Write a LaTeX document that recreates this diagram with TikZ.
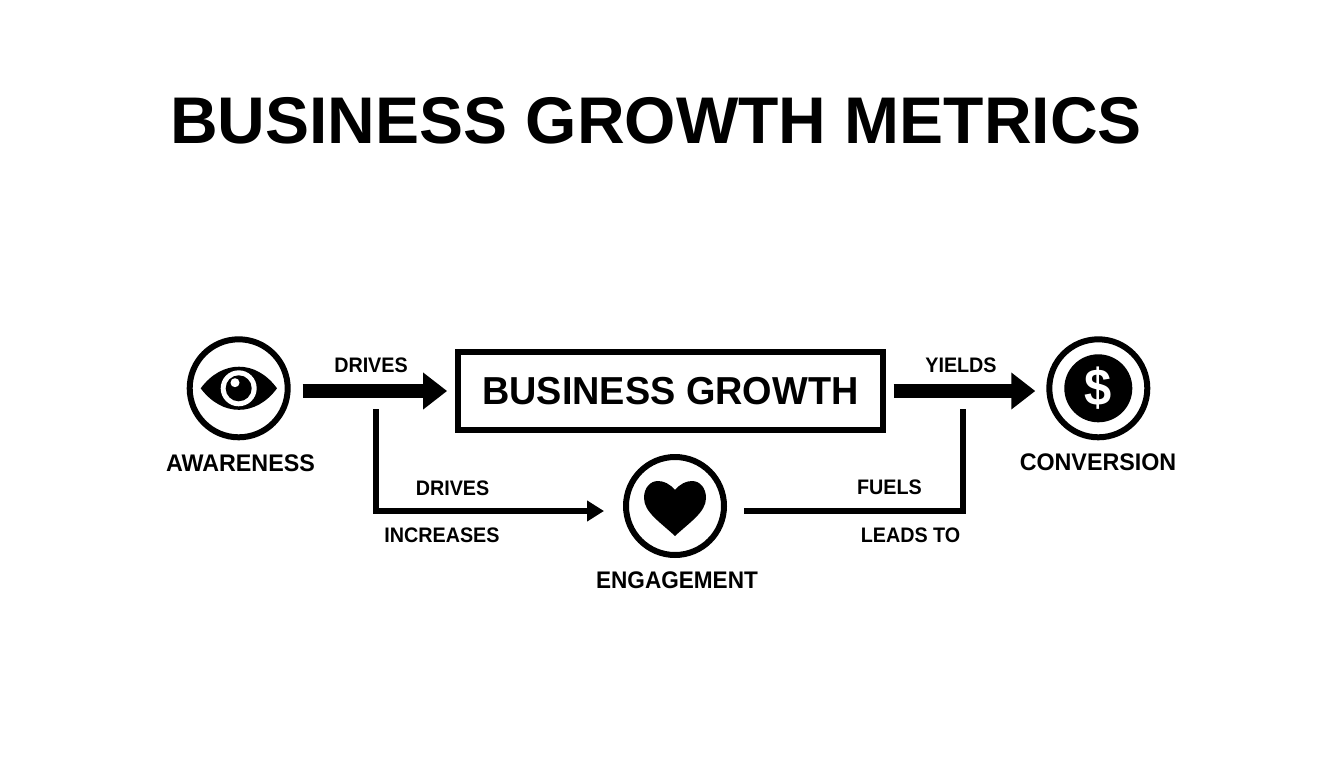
\documentclass[tikz,border=0pt]{standalone}
\usepackage{fontspec}
\setmainfont{Liberation Sans}
\newfontfamily\narrowfont[FakeStretch=0.94]{Liberation Sans}
\newfontfamily\namefont[FakeStretch=0.97]{Liberation Sans}
\usetikzlibrary{arrows.meta}

\tikzset{
  ringnode/.style = {draw,circle,line width=6pt,minimum size=98pt,inner sep=0pt},
  labelnode/.style = {font=\fontsize{21}{21}\narrowfont\bfseries\selectfont,inner sep=0pt},
  namenode/.style = {font=\fontsize{24}{24}\namefont\bfseries\selectfont,inner sep=0pt},
  bigarrow/.style = {line width=14.7pt,-{Triangle[length=24pt,width=35.4pt]}},
  thinarrow/.style = {line width=6pt,-{Triangle[length=17pt,width=20pt]}}
}

\begin{document}
\begin{tikzpicture}[x=1pt,y=-1pt]
\useasboundingbox (0,0) rectangle (1344,768);

\node[font=\fontsize{66}{66}\bfseries\selectfont,inner sep=0pt] (title) at (656,121) {BUSINESS GROWTH METRICS};

\node[ringnode] (awareness) at (238.7,388.3) {};
\node[ringnode] (engagement) at (675,506) {};
\node[ringnode] (conversion) at (1098.3,388.3) {};
\node[draw,line width=5.6pt,minimum width=425pt,minimum height=78pt,inner sep=0pt,
      font=\fontsize{39}{39}\namefont\bfseries\selectfont] (growth) at (670.4,391) {BUSINESS GROWTH};

% icons
\fill (200.7,388.3) .. controls (222,359.5) and (256,359.5) .. (277,388.3)
                    .. controls (256,417) and (222,417) .. (200.7,388.3) -- cycle;
\fill[white] (238.7,388.3) circle (18);
\fill (238.7,388.3) circle (13);
\fill[white] (235,382.7) circle (4.5);
\fill (675,490) .. controls (670,484) and (664,481) .. (658,481)
     .. controls (650,481) and (644,488) .. (644,498)
     .. controls (644,512) and (660,522) .. (675,536)
     .. controls (690,522) and (706,512) .. (706,498)
     .. controls (706,488) and (700,481) .. (692,481)
     .. controls (686,481) and (680,484) .. (675,490) -- cycle;
\fill (conversion) circle (34);
\node[text=white,font=\fontsize{52}{52}\narrowfont\bfseries\selectfont,inner sep=0pt] (dollar) at (conversion) {\$};

\coordinate (elbowleft) at (375.7,409.3);
\coordinate (elbowright) at (963,409.3);

\draw[bigarrow,shorten <=12pt,shorten >=8pt] (awareness.east |- growth.west) -- (growth.west);
\draw[bigarrow,shorten <=8pt,shorten >=11pt] (growth.east) -- (conversion.west |- growth.east);
\draw[thinarrow,shorten >=19pt] (elbowleft) |- ([yshift=-5pt]engagement.west);
\draw[line width=6pt,shorten <=17pt] ([yshift=-5pt]engagement.east) -| (elbowright);

\node[labelnode] (drivesa) at (371,365) {DRIVES};
\node[labelnode] (yields) at (961,365) {YIELDS};
\node[labelnode] (drivesb) at (452.5,488) {DRIVES};
\node[labelnode] (increases) at (442,535) {INCREASES};
\node[labelnode] (fuels) at (889.5,487) {FUELS};
\node[labelnode] (leadsto) at (910.5,535) {LEADS TO};
\node[namenode] (awarenesstext) at (240.5,463) {AWARENESS};
\node[namenode] (conversiontext) at (1098,462) {CONVERSION};
\node[namenode,font=\fontsize{24}{24}\narrowfont\bfseries\selectfont] (engagementtext) at (677,580) {ENGAGEMENT};
\end{tikzpicture}
\end{document}
